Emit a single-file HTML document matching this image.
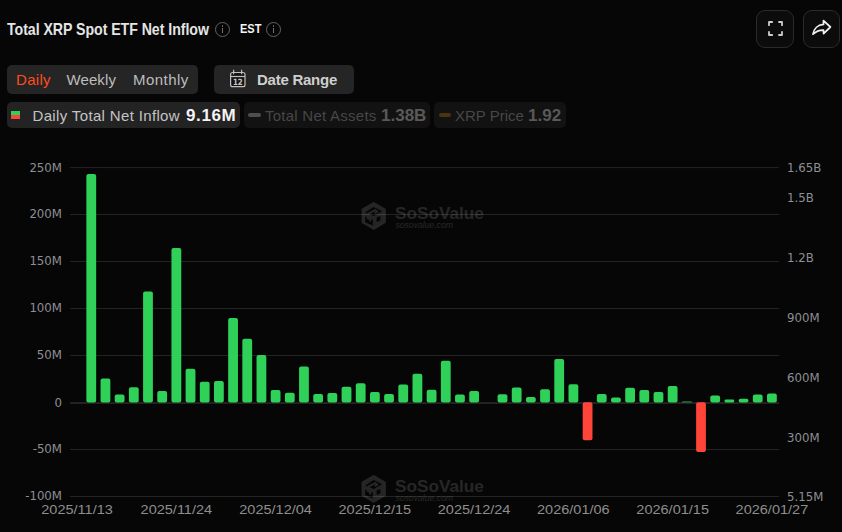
<!DOCTYPE html>
<html><head><meta charset="utf-8">
<style>
*{margin:0;padding:0;box-sizing:border-box}
html,body{width:842px;height:532px;overflow:hidden;background:#060606}
body{position:relative;font-family:"Liberation Sans",Arial,sans-serif;color:#ddd}
.abs{position:absolute}
.title{left:7px;top:20.9px;font-size:15.4px;line-height:16px;font-weight:bold;color:#e4e4e4;letter-spacing:-0.05px;white-space:nowrap;transform:scale(0.92,1.04);transform-origin:0 0}
.est{left:240px;top:23px;font-size:12.5px;line-height:13px;font-weight:bold;color:#f4f4f4;transform:scaleX(0.88);transform-origin:0 0}
.info{width:15px;height:15px;border:1px solid #636363;border-radius:50%}
.info:before{content:"";position:absolute;left:5.9px;top:2.9px;width:1.2px;height:1.3px;background:#707070;border-radius:1px}
.info:after{content:"";position:absolute;left:5.9px;top:5.3px;width:1.2px;height:5.6px;background:#707070}
.btn{width:38px;height:38px;border:1px solid #2b2b2b;border-radius:9px;background:#0c0c0c}
.seg{left:7px;top:65px;width:191px;height:29px;background:#252525;border-radius:5px}
.seg span{position:absolute;top:6px;font-size:15px;color:#bdbdbd;white-space:nowrap}
.dr{left:214px;top:65px;width:140px;height:29px;background:#252525;border-radius:5px}
.lg{top:102px;height:26px;border-radius:5px;white-space:nowrap}
.lg span{position:absolute;top:5px;font-size:15px}
.lg b{position:absolute;top:3.5px;font-size:17px}
.ch text{font-family:"DejaVu Sans",sans-serif}
.xl text{font-family:"Liberation Sans",Arial,sans-serif}
</style></head><body>
<div class="abs title">Total XRP Spot ETF Net Inflow</div>
<div class="abs info" style="left:215px;top:21.5px"></div>
<div class="abs est">EST</div>
<div class="abs info" style="left:266px;top:21.5px"></div>

<div class="abs btn" style="left:756px;top:10px"></div>
<div class="abs btn" style="left:803px;top:10px;width:37px"></div>

<div class="abs seg">
<span style="left:9px;color:#ff4b1e;letter-spacing:0.3px">Daily</span>
<span style="left:59.5px;letter-spacing:0.1px">Weekly</span>
<span style="left:126px;letter-spacing:0.45px">Monthly</span>
</div>
<div class="abs dr">

<span class="abs" style="left:43px;top:6px;font-size:15px;font-weight:bold;color:#cfcfcf;white-space:nowrap;letter-spacing:-0.25px">Date Range</span>
</div>

<div class="abs lg" style="left:7px;width:233px;background:#232323">
<i class="abs" style="left:4px;top:9px;width:9px;height:4px;background:#30D158"></i>
<i class="abs" style="left:4px;top:13px;width:9px;height:4px;background:#FF453A"></i>
<span style="left:25.5px;color:#c4c4c4;letter-spacing:0.35px">Daily Total Net Inflow</span>
<b style="left:179px;color:#f4f4f4;letter-spacing:0.6px">9.16M</b>
</div>
<div class="abs lg" style="left:244px;width:186px;background:#121212">
<i class="abs" style="left:4px;top:11px;width:13px;height:4px;background:#4e4e4e;border-radius:2px"></i>
<span style="left:21px;color:#474747;letter-spacing:0.25px">Total Net Assets</span>
<b style="left:137px;color:#595959">1.38B</b>
</div>
<div class="abs lg" style="left:434px;width:132px;background:#121212">
<i class="abs" style="left:5px;top:11px;width:12px;height:4px;background:#4a3511;border-radius:2px"></i>
<span style="left:21px;color:#474747">XRP Price</span>
<b style="left:94px;color:#595959">1.92</b>
</div>

<svg class="abs" style="left:0;top:0" width="842" height="532">
<path d="M769,25.2V22H772.2M779,22H782V25.2M782,31.8V35H779M772.2,35H769V31.8" fill="none" stroke="#cdcdcd" stroke-width="1.8" stroke-linejoin="round" stroke-linecap="round"/>
<path d="M823.5,20.6L830.4,27L823.6,33.6L823.5,30.2C819.5,30 816,31.5 813,34.2C813.8,29 817.5,24.8 823.5,24.4Z" fill="none" stroke="#f2f2f2" stroke-width="1.75" stroke-linejoin="round"/>
<g stroke="#bfbfbf" fill="none">
<rect x="230.6" y="72.5" width="14.4" height="14.2" rx="2" fill="#151515" stroke-width="1.2"/>
<line x1="230.6" y1="76.5" x2="245" y2="76.5" stroke-width="1.2"/>
<line x1="233.6" y1="69.8" x2="233.6" y2="74.3" stroke-width="1.2"/>
<line x1="241.6" y1="69.8" x2="241.6" y2="74.3" stroke-width="1.2"/>
</g>
<text x="237.8" y="84.8" text-anchor="middle" style="font-family:'DejaVu Sans',sans-serif;font-weight:bold;font-size:8.6px" fill="#c8c8c8" transform="translate(237.8,0) scale(0.82,1) translate(-237.8,0)">12</text>
<rect x="70" y="167.1" width="709" height="1" fill="#232323"/>
<rect x="70" y="214.0" width="709" height="1" fill="#232323"/>
<rect x="70" y="261.0" width="709" height="1" fill="#232323"/>
<rect x="70" y="308.0" width="709" height="1" fill="#232323"/>
<rect x="70" y="355.0" width="709" height="1" fill="#232323"/>
<rect x="70" y="402" width="709" height="2" fill="#222"/>
<rect x="70" y="449.0" width="709" height="1" fill="#232323"/>
<rect x="70" y="496.0" width="709" height="1" fill="#232323"/>
<g opacity="0.125">
<polygon points="373.70,203.60 384.35,209.75 384.35,222.05 373.70,228.20 363.05,222.05 363.05,209.75" fill="#f0f0f0" stroke="#fff" stroke-width="3" stroke-linejoin="round"/>
<polygon points="365.40,212.60 373.60,207.00 382.00,211.30 373.80,216.00" fill="#000"/>
<polygon points="365.20,216.40 372.90,219.80 372.90,225.60 365.20,222.20" fill="#000"/>
<polygon points="376.60,217.60 380.40,216.00 380.40,220.60 376.60,222.00" fill="#000"/>
<path d="M367.6,214.20L375.2,210.00L377.2,211.60L374.8,213.20M366.8,217.60L370.2,219.20L370.2,221.40" fill="none" stroke="#fff" stroke-width="2"/>
<g fill="#fff">
<text x="395" y="219" style="font-family:'Liberation Sans',sans-serif;font-weight:bold;font-size:17.2px">SoSoValue</text>
<text x="395.5" y="228.3" style="font-family:'Liberation Sans',sans-serif;font-style:italic;font-size:8.6px">sosovalue.com</text>
</g>
</g>
<g opacity="0.125">
<polygon points="373.70,476.60 384.35,482.75 384.35,495.05 373.70,501.20 363.05,495.05 363.05,482.75" fill="#f0f0f0" stroke="#fff" stroke-width="3" stroke-linejoin="round"/>
<polygon points="365.40,485.60 373.60,480.00 382.00,484.30 373.80,489.00" fill="#000"/>
<polygon points="365.20,489.40 372.90,492.80 372.90,498.60 365.20,495.20" fill="#000"/>
<polygon points="376.60,490.60 380.40,489.00 380.40,493.60 376.60,495.00" fill="#000"/>
<path d="M367.6,487.20L375.2,483.00L377.2,484.60L374.8,486.20M366.8,490.60L370.2,492.20L370.2,494.40" fill="none" stroke="#fff" stroke-width="2"/>
<g fill="#fff">
<text x="395" y="492" style="font-family:'Liberation Sans',sans-serif;font-weight:bold;font-size:17.2px">SoSoValue</text>
<text x="395.5" y="501.3" style="font-family:'Liberation Sans',sans-serif;font-style:italic;font-size:8.6px">sosovalue.com</text>
</g>
</g>
<g>
<rect x="86.37" y="174.0" width="9.8" height="228.5" rx="2.0" fill="#30D158"/>
<rect x="100.55" y="378.4" width="9.8" height="24.1" rx="2.0" fill="#30D158"/>
<rect x="114.73" y="394.4" width="9.8" height="8.1" rx="2.0" fill="#30D158"/>
<rect x="128.91" y="387.2" width="9.8" height="15.3" rx="2.0" fill="#30D158"/>
<rect x="143.09" y="291.4" width="9.8" height="111.1" rx="2.0" fill="#30D158"/>
<rect x="157.27" y="391.0" width="9.8" height="11.5" rx="2.0" fill="#30D158"/>
<rect x="171.45" y="248.1" width="9.8" height="154.4" rx="2.0" fill="#30D158"/>
<rect x="185.63" y="368.8" width="9.8" height="33.7" rx="2.0" fill="#30D158"/>
<rect x="199.81" y="381.8" width="9.8" height="20.7" rx="2.0" fill="#30D158"/>
<rect x="213.99" y="380.9" width="9.8" height="21.6" rx="2.0" fill="#30D158"/>
<rect x="228.17" y="318.1" width="9.8" height="84.4" rx="2.0" fill="#30D158"/>
<rect x="242.35" y="338.7" width="9.8" height="63.8" rx="2.0" fill="#30D158"/>
<rect x="256.53" y="355.0" width="9.8" height="47.5" rx="2.0" fill="#30D158"/>
<rect x="270.71" y="389.9" width="9.8" height="12.6" rx="2.0" fill="#30D158"/>
<rect x="284.89" y="392.8" width="9.8" height="9.7" rx="2.0" fill="#30D158"/>
<rect x="299.07" y="366.5" width="9.8" height="36.0" rx="2.0" fill="#30D158"/>
<rect x="313.25" y="394.1" width="9.8" height="8.4" rx="2.0" fill="#30D158"/>
<rect x="327.43" y="392.9" width="9.8" height="9.6" rx="2.0" fill="#30D158"/>
<rect x="341.61" y="386.7" width="9.8" height="15.8" rx="2.0" fill="#30D158"/>
<rect x="355.79" y="383.2" width="9.8" height="19.3" rx="2.0" fill="#30D158"/>
<rect x="369.97" y="392.0" width="9.8" height="10.5" rx="2.0" fill="#30D158"/>
<rect x="384.15" y="394.0" width="9.8" height="8.5" rx="2.0" fill="#30D158"/>
<rect x="398.33" y="384.5" width="9.8" height="18.0" rx="2.0" fill="#30D158"/>
<rect x="412.51" y="373.8" width="9.8" height="28.7" rx="2.0" fill="#30D158"/>
<rect x="426.69" y="389.7" width="9.8" height="12.8" rx="2.0" fill="#30D158"/>
<rect x="440.87" y="360.8" width="9.8" height="41.7" rx="2.0" fill="#30D158"/>
<rect x="455.05" y="394.6" width="9.8" height="7.9" rx="2.0" fill="#30D158"/>
<rect x="469.23" y="391.0" width="9.8" height="11.5" rx="2.0" fill="#30D158"/>
<rect x="497.59" y="394.3" width="9.8" height="8.2" rx="2.0" fill="#30D158"/>
<rect x="511.77" y="387.5" width="9.8" height="15.0" rx="2.0" fill="#30D158"/>
<rect x="525.95" y="397.0" width="9.8" height="5.5" rx="2.0" fill="#30D158"/>
<rect x="540.13" y="389.3" width="9.8" height="13.2" rx="2.0" fill="#30D158"/>
<rect x="554.31" y="358.9" width="9.8" height="43.6" rx="2.0" fill="#30D158"/>
<rect x="568.49" y="384.3" width="9.8" height="18.2" rx="2.0" fill="#30D158"/>
<rect x="582.67" y="402.3" width="9.8" height="37.9" rx="2" fill="#FF453A"/>
<rect x="596.85" y="394.0" width="9.8" height="8.5" rx="2.0" fill="#30D158"/>
<rect x="611.03" y="397.6" width="9.8" height="4.9" rx="2.0" fill="#30D158"/>
<rect x="625.21" y="387.8" width="9.8" height="14.7" rx="2.0" fill="#30D158"/>
<rect x="639.39" y="390.0" width="9.8" height="12.5" rx="2.0" fill="#30D158"/>
<rect x="653.57" y="392.0" width="9.8" height="10.5" rx="2.0" fill="#30D158"/>
<rect x="667.75" y="386.1" width="9.8" height="16.4" rx="2.0" fill="#30D158"/>
<rect x="681.93" y="401.2" width="9.8" height="1.3" rx="0.5" fill="#30D158" opacity="0.6"/>
<rect x="696.11" y="402.3" width="9.8" height="49.8" rx="2" fill="#FF453A"/>
<rect x="710.29" y="395.4" width="9.8" height="7.1" rx="2.0" fill="#30D158"/>
<rect x="724.47" y="399.6" width="9.8" height="2.9" rx="1.4" fill="#30D158"/>
<rect x="738.65" y="398.8" width="9.8" height="3.7" rx="1.8" fill="#30D158"/>
<rect x="752.83" y="394.5" width="9.8" height="8.0" rx="2.0" fill="#30D158"/>
<rect x="767.01" y="393.4" width="9.8" height="9.1" rx="2.0" fill="#30D158"/>
</g>
<g class="ch" font-size="13" fill="#8e8e95">
<g transform="translate(61.6,0) scale(0.905,1) translate(-61.6,0)">
<text x="62" y="171.6" text-anchor="end">250M</text>
<text x="62" y="218.5" text-anchor="end">200M</text>
<text x="62" y="265.5" text-anchor="end">150M</text>
<text x="62" y="312.5" text-anchor="end">100M</text>
<text x="62" y="359.5" text-anchor="end">50M</text>
<text x="62" y="407.0" text-anchor="end">0</text>
<text x="62" y="453.5" text-anchor="end">-50M</text>
<text x="62" y="500.5" text-anchor="end">-100M</text>
</g>
<g transform="translate(787.4,0) scale(0.905,1) translate(-787.4,0)">
<text x="787" y="172.0">1.65B</text>
<text x="787" y="202.0">1.5B</text>
<text x="787" y="262.0">1.2B</text>
<text x="787" y="322.0">900M</text>
<text x="787" y="382.0">600M</text>
<text x="787" y="442.0">300M</text>
<text x="787" y="501.0">5.15M</text>
</g>
</g>
<g class="xl" font-size="13.7" fill="#8e8e8e">
<text x="77.09" y="513.8" text-anchor="middle" transform="translate(77.09,0) scale(1.06,1) translate(-77.09,0)">2025/11/13</text>
<text x="176.35" y="513.8" text-anchor="middle" transform="translate(176.35,0) scale(1.06,1) translate(-176.35,0)">2025/11/24</text>
<text x="275.61" y="513.8" text-anchor="middle" transform="translate(275.61,0) scale(1.06,1) translate(-275.61,0)">2025/12/04</text>
<text x="374.87" y="513.8" text-anchor="middle" transform="translate(374.87,0) scale(1.06,1) translate(-374.87,0)">2025/12/15</text>
<text x="474.13" y="513.8" text-anchor="middle" transform="translate(474.13,0) scale(1.06,1) translate(-474.13,0)">2025/12/24</text>
<text x="573.39" y="513.8" text-anchor="middle" transform="translate(573.39,0) scale(1.06,1) translate(-573.39,0)">2026/01/06</text>
<text x="672.65" y="513.8" text-anchor="middle" transform="translate(672.65,0) scale(1.06,1) translate(-672.65,0)">2026/01/15</text>
<text x="771.91" y="513.8" text-anchor="middle" transform="translate(771.91,0) scale(1.06,1) translate(-771.91,0)">2026/01/27</text>
</g>
</svg>
</body></html>
